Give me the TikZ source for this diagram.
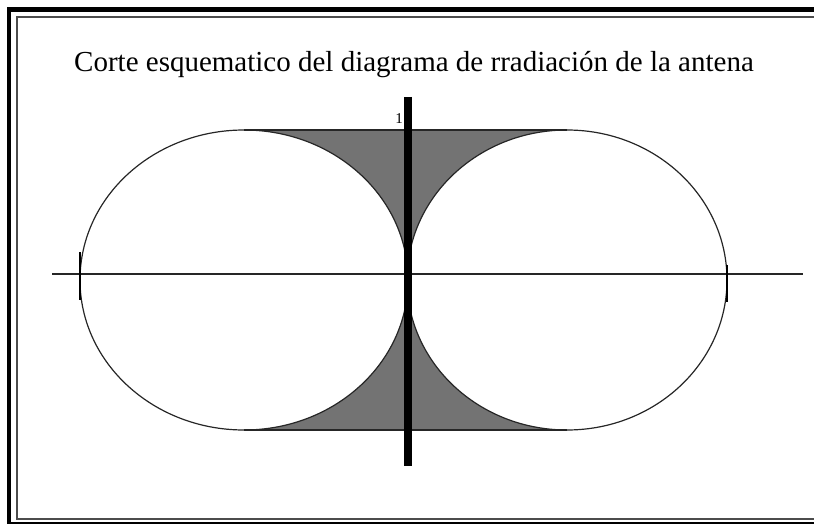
\documentclass[tikz,border=0pt]{standalone}
\usepackage{fontspec}
\setmainfont{Liberation Serif}
\begin{document}
\begin{tikzpicture}[x=1pt,y=-1pt,
  outline/.style={line width=1.2pt,black!85},
  framethick/.style={line width=4.5pt,black},
  framethin/.style={line width=1.3pt,black!70},
  shadearea/.style={fill=black!55},
  axisline/.style={line width=1.5pt,black!85},
  antennaline/.style={line width=8pt,black}]
\useasboundingbox (0,0) rectangle (814,524);
\clip (0,0) rectangle (814,524);
% frame
\draw[framethick] (9,9.5) rectangle (850,524);
\draw[framethin] (17,17) rectangle (850,519);
% title
\node[anchor=base, inner sep=0pt, font=\fontsize{29}{32}\selectfont] (title) at (414,72)
  {Corte esquematico del diagrama de rradiación de la antena};
% shaded region
\begin{scope}
  \clip (244,130) rectangle (567,430);
  \fill[shadearea, even odd rule] (60,120) rectangle (750,440)
     (244,280) ellipse [x radius=164, y radius=150]
     (567,280) ellipse [x radius=160, y radius=150];
\end{scope}
% lobes
\draw[outline] (244,280) ellipse [x radius=164, y radius=150];
\draw[outline] (567,280) ellipse [x radius=160, y radius=150];
\draw[outline] (244,130) -- (567,130);
\draw[outline] (244,430) -- (567,430);
% axis
\draw[axisline] (52,274) -- (803,274);
\draw[line width=1.8pt] (80,252) -- (80,300);
\draw[line width=1.3pt] (727,265) -- (727,302);
% antenna
\draw[antennaline] (408,97) -- (408,466);
\node[inner sep=0pt, font=\fontsize{15}{16}\selectfont] (one) at (399,119) {1};
\end{tikzpicture}
\end{document}
